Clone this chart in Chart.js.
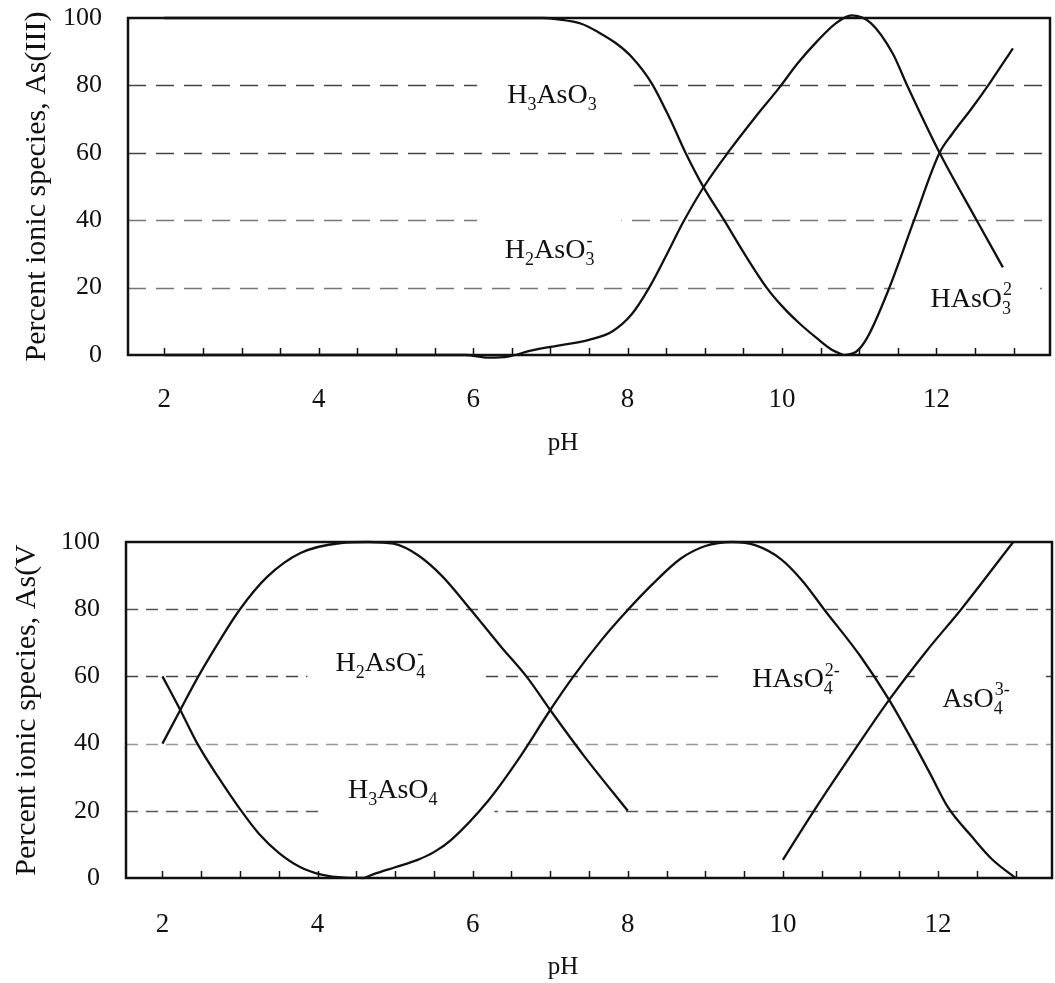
<!DOCTYPE html>
<html>
<head>
<meta charset="utf-8">
<script src="https://cdn.jsdelivr.net/npm/chart.js@4.4.0/dist/chart.umd.min.js"></script>
<style>
html, body { margin: 0; padding: 0; background: #fff; }
canvas { position: absolute; left: 0; }
#top { top: 0; }
#bottom { top: 480px; }
</style>
</head>
<body>
<canvas id="top" width="1055" height="480"></canvas>
<canvas id="bottom" width="1055" height="503"></canvas>
<script>
// axis values
var phTicks = [2, 2.5, 3, 3.5, 4, 4.5, 5, 5.5, 6, 6.5, 7, 7.5, 8, 8.5, 9, 9.5, 10, 10.5, 11, 11.5, 12, 12.5, 13];
var phLabels = [2, 4, 6, 8, 10, 12];
var pctTicks = [0, 20, 40, 60, 80, 100];
var dashLevels = [20, 40, 60, 80];

// As(III) species (percent vs pH)
var h3aso3X = [2, 6.9, 7.1, 7.4, 7.62, 7.85, 8.05, 8.31, 8.55, 8.75, 8.99, 9.25, 9.5, 9.8, 10.0, 10.22, 10.45, 10.65, 10.8];
var h3aso3Y = [100, 100, 99.6, 98.3, 95.8, 92.5, 88.5, 80.7, 70, 60, 49.5, 40, 30.5, 20, 14.5, 9.5, 5, 1.5, 0];
var h2aso3X = [2, 5.9, 6.2, 6.45, 6.73, 7.1, 7.5, 7.8, 8.05, 8.28, 8.5, 8.71, 8.99, 9.33, 9.65, 9.97, 10.2, 10.45, 10.7, 10.9, 11.15, 11.43, 11.62, 12.04, 12.52, 12.86];
var h2aso3Y = [0, 0, -0.8, -0.5, 1.2, 2.8, 4.5, 7, 12, 20, 29.5, 39, 50, 61, 70.5, 79.5, 86.5, 93, 98.5, 100.8, 98.5, 89.6, 80, 60, 40, 26];
var haso3X = [10.8, 10.95, 11.1, 11.39, 11.71, 12.04, 12.2, 12.45, 12.69, 12.99];
var haso3Y = [0, 0.8, 5, 20, 40, 60, 65.5, 73, 80.7, 91];

// As(V) species (percent vs pH)
var h3aso4X = [2, 2.23, 2.45, 2.72, 3.0, 3.25, 3.5, 3.78, 4.05, 4.35, 4.6];
var h3aso4Y = [60, 50, 40, 30, 20.5, 13, 7.5, 3.2, 1, 0.1, 0];
var h2aso4X = [2, 2.23, 2.45, 2.72, 3.0, 3.35, 3.78, 4.3, 4.65, 4.98, 5.3, 5.6, 5.97, 6.36, 6.71, 7.0, 7.43, 8.0];
var h2aso4Y = [40, 50, 59.5, 70, 80, 89.6, 96.7, 99.7, 100, 99.5, 96, 90, 80, 69, 59.5, 50, 36.5, 20];
var haso4X = [4.6, 4.77, 5.0, 5.29, 5.5, 5.72, 6.2, 6.58, 7.0, 7.3, 7.65, 7.97, 8.3, 8.68, 9.0, 9.35, 9.65, 9.97, 10.25, 10.53, 11.0, 11.37, 11.69, 11.9, 12.13, 12.43, 12.7, 13.0];
var haso4Y = [0, 1.5, 3.2, 5.4, 7.7, 11.3, 23, 35, 50, 60, 70.5, 79, 87, 95, 98.8, 100, 99, 95, 88.5, 80, 66, 53, 40, 31, 21, 12.5, 5.5, 0];
var aso4X = [10.0, 10.4, 10.98, 11.37, 11.85, 12.3, 12.97];
var aso4Y = [5.4, 20, 40, 53, 67.5, 80, 100];

var serif = '"Liberation Serif", "DejaVu Serif", serif';

function pts(xs, ys) {
    return xs.map(function(x, i) { return { x: x, y: ys[i] }; });
}

function line(xs, ys) {
    return {
        data: pts(xs, ys),
        borderColor: "#111",
        borderWidth: 2.3,
        pointRadius: 0,
        cubicInterpolationMode: "monotone",
        clip: false
    };
}

// formula text with stacked sub/superscripts
function layoutFormula(ctx, parts, size) {
    var items = [], x = 0, lastSub = null;
    parts.forEach(function(p) {
        var kind = p[1] || "n";
        var f = kind === "n" ? size : Math.round(size * 0.66);
        ctx.font = f + "px " + serif;
        var w = ctx.measureText(p[0]).width;
        var px = x;
        if (kind === "sup" && lastSub !== null) px = lastSub + 1;
        items.push({ t: p[0], x: px, f: f, dy: kind === "sub" ? size * 0.24 : (kind === "sup" ? -size * 0.42 : 0) });
        lastSub = kind === "sub" ? x : null;
        x = Math.max(x, px + w);
    });
    return { items: items, width: x };
}

var frame = {
    id: "frame",
    beforeDatasetsDraw: function(chart, args, o) {
        var ctx = chart.ctx, a = chart.chartArea, xs = chart.scales.x, ys = chart.scales.y;
        ctx.save();
        ctx.lineWidth = 1.6;
        ctx.setLineDash(o.dash);
        dashLevels.forEach(function(v, i) {
            var y = Math.round(ys.getPixelForValue(v)) + 0.5;
            ctx.strokeStyle = o.dashColors[i];
            ctx.beginPath();
            ctx.moveTo(a.left, y);
            ctx.lineTo(a.right, y);
            ctx.stroke();
        });
        ctx.setLineDash([]);
        ctx.fillStyle = "#fff";
        o.boxes.forEach(function(b) {
            var x1 = xs.getPixelForValue(b[0]), x2 = xs.getPixelForValue(b[1]);
            var y1 = ys.getPixelForValue(b[3]), y2 = ys.getPixelForValue(b[2]);
            ctx.fillRect(x1, y1, x2 - x1, y2 - y1);
        });
        ctx.restore();
    },
    afterDatasetsDraw: function(chart, args, o) {
        var ctx = chart.ctx, a = chart.chartArea, xs = chart.scales.x, ys = chart.scales.y;
        ctx.save();
        ctx.strokeStyle = "#111";
        ctx.lineWidth = 1.5;
        phTicks.forEach(function(v) {
            var x = Math.round(xs.getPixelForValue(v)) + 0.5;
            ctx.beginPath();
            ctx.moveTo(x, a.bottom);
            ctx.lineTo(x, a.bottom - 7);
            ctx.stroke();
        });
        ctx.lineWidth = 2.5;
        ctx.strokeRect(a.left, a.top, a.right - a.left, a.bottom - a.top);

        ctx.fillStyle = "#111";
        ctx.textBaseline = "alphabetic";
        ctx.textAlign = "left";
        o.labels.forEach(function(l) {
            var lay = layoutFormula(ctx, l.parts, o.labelSize);
            var x0 = xs.getPixelForValue(l.x) - lay.width / 2;
            var base = ys.getPixelForValue(l.y) + o.labelSize * 0.33;
            lay.items.forEach(function(it) {
                ctx.font = it.f + "px " + serif;
                ctx.fillText(it.t, x0 + it.x, base + it.dy);
            });
        });

        // x axis title, sits a little left of the plot centre in the source
        ctx.font = "25px " + serif;
        ctx.textAlign = "center";
        ctx.textBaseline = "middle";
        ctx.fillText("pH", (a.left + a.right) / 2 + o.titleShift, xs.bottom - o.titleFromBottom);
        ctx.restore();
    }
};

function makeChart(id, datasets, cfg) {
    return new Chart(document.getElementById(id).getContext("2d"), {
        type: "line",
        data: { datasets: datasets },
        plugins: [frame],
        options: {
            responsive: false,
            animation: false,
            events: [],
            layout: { padding: cfg.padding, autoPadding: false },
            plugins: {
                legend: { display: false },
                tooltip: { enabled: false },
                frame: {
                    dash: cfg.dash,
                    dashColors: cfg.dashColors,
                    boxes: cfg.boxes,
                    labels: cfg.labels,
                    labelSize: 28,
                    titleShift: -26,
                    titleFromBottom: cfg.titleFromBottom
                }
            },
            scales: {
                x: {
                    type: "linear",
                    min: 1.53,
                    max: 13.47,
                    grid: { display: false, drawTicks: false },
                    border: { display: false },
                    afterBuildTicks: function(s) { s.ticks = phLabels.map(function(v) { return { value: v }; }); },
                    ticks: { font: { family: serif, size: 27 }, color: "#111", padding: cfg.xLabelPad, maxRotation: 0, autoSkip: false },
                    title: { display: false },
                    afterFit: function(s) {
                        s.height = cfg.xHeight;
                        s.paddingLeft = 0;
                        s.paddingRight = 0;
                    }
                },
                y: {
                    type: "linear",
                    min: 0,
                    max: 100,
                    grid: { display: false, drawTicks: false },
                    border: { display: false },
                    afterBuildTicks: function(s) { s.ticks = pctTicks.map(function(v) { return { value: v }; }); },
                    ticks: { font: { family: serif, size: 26 }, color: "#111", padding: 26 },
                    title: { display: true, text: cfg.yTitle, color: "#111", font: { family: serif, size: 30 }, padding: { top: cfg.yTitlePad, bottom: 0 } },
                    afterFit: function(s) {
                        s.width = cfg.yWidth;
                        s.paddingTop = 0;
                        s.paddingBottom = 0;
                    }
                }
            }
        }
    });
}

makeChart("top", [line(h3aso3X, h3aso3Y), line(h2aso3X, h2aso3Y), line(haso3X, haso3Y)], {
    padding: { top: 18, right: 5, left: 0, bottom: 0 },
    xHeight: 125, xLabelPad: 29, titleFromBottom: 37,
    yWidth: 128, yTitlePad: 19,
    yTitle: "Percent ionic species, As(III)",
    dash: [18, 10],
    dashColors: ["#777", "#777", "#444", "#444"],
    boxes: [[6.05, 8.08, 73, 83.5], [6.05, 7.92, 26.7, 42.4], [11.46, 13.34, 12, 22.5]],
    labels: [
        { x: 7.02, y: 77.5, parts: [["H"], ["3", "sub"], ["AsO"], ["3", "sub"]] },
        { x: 6.99, y: 31.5, parts: [["H"], ["2", "sub"], ["AsO"], ["3", "sub"], ["-", "sup"]] },
        { x: 12.45, y: 17, parts: [["HAsO"], ["3", "sub"], ["2", "sup"]] }
    ]
});

makeChart("bottom", [line(h3aso4X, h3aso4Y), line(h2aso4X, h2aso4Y), line(haso4X, haso4Y), line(aso4X, aso4Y)], {
    padding: { top: 62, right: 3, left: 0, bottom: 0 },
    xHeight: 105, xLabelPad: 31, titleFromBottom: 16,
    yWidth: 126, yTitlePad: 9,
    yTitle: "Percent ionic species, As(V",
    dash: [12, 8],
    dashColors: ["#555", "#999", "#444", "#555"],
    boxes: [[3.87, 6.17, 57.7, 69.3], [4.06, 6.28, 18.5, 31.5], [9.2, 11.0, 54.5, 64.9], [11.7, 13.35, 48.2, 63.7]],
    labels: [
        { x: 4.81, y: 64.3, parts: [["H"], ["2", "sub"], ["AsO"], ["4", "sub"], ["-", "sup"]] },
        { x: 4.97, y: 26.5, parts: [["H"], ["3", "sub"], ["AsO"], ["4", "sub"]] },
        { x: 10.17, y: 59.5, parts: [["HAsO"], ["4", "sub"], ["2-", "sup"]] },
        { x: 12.49, y: 53.6, parts: [["AsO"], ["4", "sub"], ["3-", "sup"]] }
    ]
});
</script>
</body>
</html>
